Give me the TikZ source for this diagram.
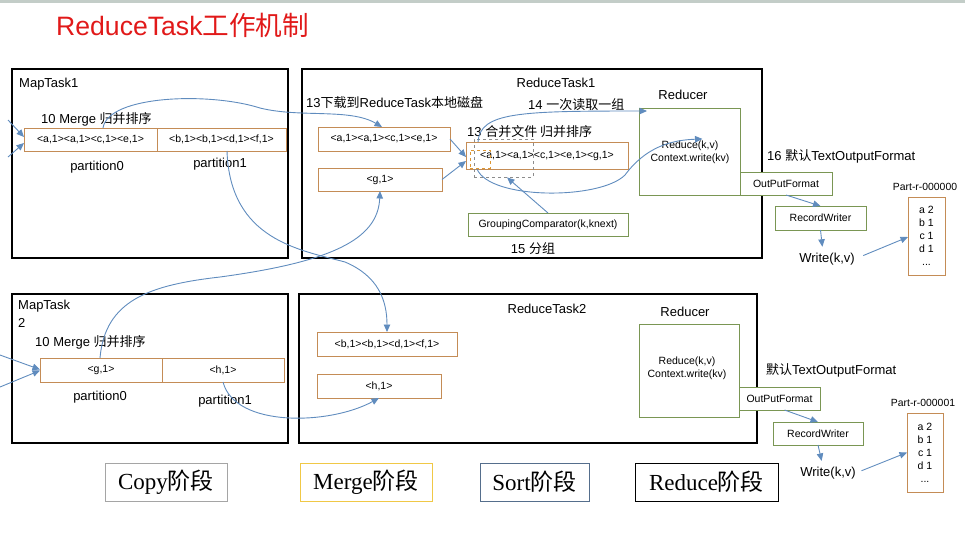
\documentclass[tikz,border=0pt]{standalone}
\usepackage{fontspec}
\setmainfont{Liberation Sans}
\newfontfamily\cjk{Noto Sans CJK SC}
\newfontfamily\serifl{Liberation Serif}
\usetikzlibrary{arrows.meta}
\definecolor{ob}{RGB}{196,140,86}
\definecolor{gb}{RGB}{122,150,84}
\definecolor{ab}{RGB}{96,140,190}
\definecolor{dgray}{RGB}{140,140,140}
\definecolor{dorange}{RGB}{220,150,50}
\definecolor{titlered}{RGB}{225,25,25}
\definecolor{copygray}{RGB}{165,165,165}
\definecolor{mergey}{RGB}{240,200,70}
\definecolor{sortb}{RGB}{85,110,140}
\definecolor{topgray}{RGB}{195,205,200}
\tikzset{
 blk/.style={draw=black, line width=1.2pt, inner sep=0, outer sep=0},
 obox/.style={draw=ob, fill=white, line width=0.9pt, inner sep=0, outer sep=0, font=\fontsize{10.5}{13}\selectfont},
 gbox/.style={draw=gb, fill=white, line width=0.9pt, inner sep=0, outer sep=0, font=\fontsize{10.5}{13}\selectfont},
 lab/.style={inner sep=0, font=\fontsize{13}{16}\selectfont},
 sm/.style={inner sep=0, font=\fontsize{10.5}{13}\selectfont},
 arr/.style={draw=ab, line width=0.9pt, -{Triangle[length=7.5pt,width=6.5pt]}},
 stage/.style={line width=1pt, inner sep=0, minimum height=38pt, font=\serifl\fontsize{23}{26}\selectfont},
}
\begin{document}
\begin{tikzpicture}[x=1pt,y=-1pt]
\useasboundingbox (0,0) rectangle (965,547);
\fill[topgray] (0,0) rectangle (965,3);
\node[anchor=west, inner sep=0, text=titlered, font=\fontsize{26.6}{30}\selectfont] (title) at (56,25) {ReduceTask{\cjk 工作机制}};

% MapTask1
\node[blk, minimum width=276pt, minimum height=189pt] (map1) at (150,163.5) {};
\node[lab, anchor=west] (map1l) at (19,84) {MapTask1};
\node[lab, anchor=west] (merge1) at (41,119) {10 Merge {\cjk 归并排序}};
\node[obox, minimum width=133pt, minimum height=23pt] (p10) at (90.5,139.5) {<a,1><a,1><c,1><e,1>};
\node[obox, minimum width=129pt, minimum height=23pt] (p11) at (221.5,139.5) {<b,1><b,1><d,1><f,1>};
\node[lab] (p10l) at (97,167) {partition0};
\node[lab] (p11l) at (220,164) {partition1};

% ReduceTask1
\node[blk, minimum width=460pt, minimum height=189pt] (rt1) at (532,163.5) {};
\node[lab] (rt1l) at (556,83) {ReduceTask1};
\node[lab, anchor=west] (dl) at (306,103) {13{\cjk 下载到}ReduceTask{\cjk 本地磁盘}};
\node[obox, minimum width=132pt, minimum height=24pt] (ra) at (384,139) {<a,1><a,1><c,1><e,1>};
\node[obox, minimum width=124pt, minimum height=23pt] (rg) at (380,179.5) {<g,1>};
\node[lab, anchor=west] (mf) at (467,132) {13 {\cjk 合并文件 归并排序}};
\node[obox, minimum width=162pt, minimum height=27pt] (mg) at (547,155.5) {<a,1><a,1><c,1><e,1><g,1>};
\node[draw=dgray, dashed, line width=0.8pt, minimum width=59pt, minimum height=38pt, inner sep=0] (dg) at (503.5,158) {};
\node[draw=dorange, dashed, line width=1pt, minimum width=20pt, minimum height=18pt, inner sep=0] (do) at (480,159) {};
\node[lab, anchor=west] (r14) at (528,105) {14 {\cjk 一次读取一组}};
\node[gbox, minimum width=160pt, minimum height=23pt] (gc) at (548,224.5) {GroupingComparator(k,knext)};
\node[lab] (g15) at (533,249) {15 {\cjk 分组}};
\node[gbox, minimum width=101pt, minimum height=87pt] (rd1) at (689.5,151.5) {};
\node[lab] (rd1l) at (683,95) {Reducer};
\node[sm, align=center] (rd1t) at (690,152) {Reduce(k,v)\\Context.write(kv)};
\node[gbox, minimum width=92pt, minimum height=23pt] (of1) at (786,183.5) {OutPutFormat};
\node[lab, anchor=west] (tf1) at (767,156) {16 {\cjk 默认}TextOutputFormat};
\node[gbox, minimum width=91pt, minimum height=24pt] (rw1) at (820.5,218) {RecordWriter};
\node[lab] (w1) at (827,259) {Write(k,v)};
\node[inner sep=0, font=\fontsize{10.4}{12}\selectfont] (pr0) at (925,187) {Part-r-000000};
\node[obox, minimum width=37pt, minimum height=78pt, align=center] (o0) at (926.5,236) {a 2\\b 1\\c 1\\d 1\\...};

% MapTask2
\node[blk, minimum width=276pt, minimum height=149pt] (map2) at (150,368.5) {};
\node[lab, anchor=west] (map2l) at (18,306) {MapTask};
\node[lab, anchor=west] (map2n) at (18,323) {2};
\node[lab, anchor=west] (merge2) at (35,342) {10 Merge {\cjk 归并排序}};
\node[obox, minimum width=122pt, minimum height=24pt] (p20) at (101,370) {<g,1>};
\node[obox, minimum width=122pt, minimum height=24pt] (p21) at (223,370) {<h,1>};
\node[lab] (p20l) at (100,397) {partition0};
\node[lab] (p21l) at (225,401) {partition1};

% ReduceTask2
\node[blk, minimum width=458pt, minimum height=149pt] (rt2) at (528,368.5) {};
\node[lab] (rt2l) at (547,309) {ReduceTask2};
\node[obox, minimum width=140pt, minimum height=24pt] (rb) at (387,344) {<b,1><b,1><d,1><f,1>};
\node[obox, minimum width=124pt, minimum height=24pt] (rh) at (379,386) {<h,1>};
\node[gbox, minimum width=100pt, minimum height=93pt] (rd2) at (689,370.5) {};
\node[lab] (rd2l) at (685,312) {Reducer};
\node[sm, align=center] (rd2t) at (687,368) {Reduce(k,v)\\Context.write(kv)};
\node[gbox, minimum width=81pt, minimum height=23pt] (of2) at (779.5,398.5) {OutPutFormat};
\node[lab, anchor=west] (tf2) at (766,370) {{\cjk 默认}TextOutputFormat};
\node[gbox, minimum width=90pt, minimum height=23pt] (rw2) at (818,433.5) {RecordWriter};
\node[lab] (w2) at (828,473) {Write(k,v)};
\node[inner sep=0, font=\fontsize{10.4}{12}\selectfont] (pr1) at (923,403) {Part-r-000001};
\node[obox, minimum width=36pt, minimum height=79pt, align=center] (o1) at (925,452.5) {a 2\\b 1\\c 1\\d 1\\...};

% stage boxes
\node[stage, draw=copygray, minimum width=122pt] (s1) at (166,482) {Copy{\cjk 阶段}};
\node[stage, draw=mergey, minimum width=132pt] (s2) at (366,482) {Merge{\cjk 阶段}};
\node[stage, draw=sortb, minimum width=109pt] (s3) at (534.5,482) {Sort{\cjk 阶段}};
\node[stage, draw=black, minimum width=143pt] (s4) at (706.5,482) {Reduce{\cjk 阶段}};

% incoming arrows
\coordinate (in1) at (8,120);
\coordinate (in2) at (8,157);
\coordinate (in3) at (0,355);
\coordinate (in4) at (0,387);
\draw[arr] (in1) -- ([yshift=2.5pt]p10.west);
\draw[arr] (in2) -- ([yshift=-3.5pt]p10.west);
\draw[arr] (in3) -- ([yshift=0.5pt]p20.west);
\draw[arr] (in4) -- ([yshift=-0.5pt]p20.west);

% shuffle curves
\draw[arr] ([xshift=12.5pt]p10.north) .. controls (108,95) and (210,92) .. (260,108) .. controls (300,118) and (350,108) .. ([xshift=-2pt]ra.north);
\draw[arr] ([xshift=5.5pt]p11.south) .. controls (230,240) and (300,250) .. (345,262) .. controls (378,276) and (387,300) .. (rb.north);
\draw[arr] ([xshift=-1pt]p20.north) .. controls (105,300) and (150,285) .. (220,277) .. controls (330,262) and (378,240) .. (rg.south);
\draw[arr] (p21.south) .. controls (235,428) and (330,425) .. (rh.south);

% merge / group / reduce
\draw[arr] (ra.east) -- ([yshift=-1.5pt]mg.west);
\draw[arr] (rg.east) -- ([yshift=-5.5pt]mg.west);
\draw[arr] (gc.north) -- ([xshift=3.5pt]dg.south);
\draw[arr] ([xshift=12pt]mg.north west) .. controls (480,112) and (520,111) .. ([xshift=8pt,yshift=-3pt]rd1.north west);
\draw[arr] ([xshift=11pt]mg.south west) .. controls (490,200) and (600,200) .. (625,175) .. controls (645,148) and (670,140) .. ([xshift=13pt,yshift=-31pt]rd1.north);

% output
\draw[arr] (of1.south) -- (rw1.north);
\draw[arr, shorten >=6pt] (rw1.south) -- ([xshift=-4pt]w1.north);
\draw[arr, shorten <=9pt] (w1.east) -- ([yshift=-1pt]o0.west);
\draw[arr] ([xshift=5pt]of2.south) -- (rw2.north);
\draw[arr, shorten >=6pt] (rw2.south) -- ([xshift=-5pt]w2.north);
\draw[arr, shorten <=6pt] (w2.east) -- (o1.west);
\end{tikzpicture}
\end{document}
